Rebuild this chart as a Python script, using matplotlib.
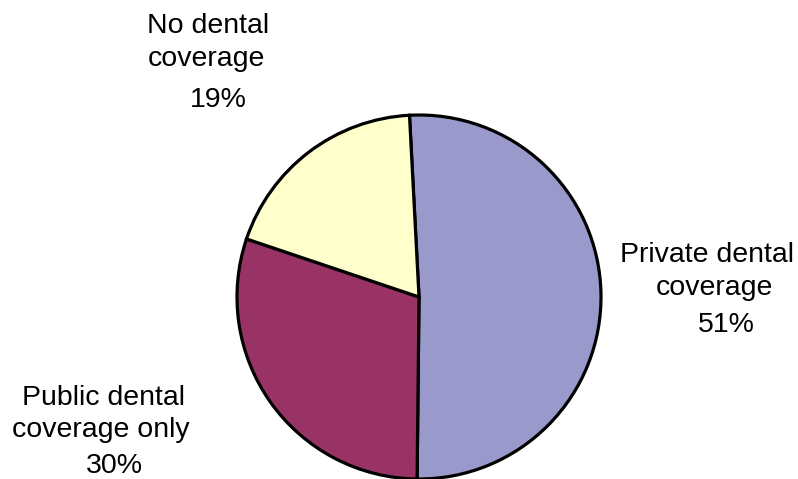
import matplotlib
matplotlib.use("Agg")
import matplotlib.pyplot as plt

categories = ["Private dental\ncoverage", "Public dental\ncoverage only", "No dental\ncoverage"]
shares = [51, 30, 19]
colors = ["#9999CC", "#993366", "#FFFFCC"]

W, H = 798, 479
fig = plt.figure(figsize=(W / 100, H / 100), dpi=100)
plt.rcParams["font.family"] = ["Liberation Sans", "DejaVu Sans"]

cx, cy, r = 419, 297, 182
ax = fig.add_axes([(cx - r) / W, (H - cy - r) / H, 2 * r / W, 2 * r / H])
wedges, _ = ax.pie(shares, colors=colors, startangle=93, counterclock=False,
                   radius=1.0,
                   wedgeprops=dict(edgecolor="black", linewidth=2.3))
for w in wedges:
    w.set_clip_on(False)
ax.set_xlim(-1, 1)
ax.set_ylim(-1, 1)
ax.axis("off")

def put(text, x, y):
    fig.text(x / W, 1 - y / H, text, ha="center", va="baseline",
             fontsize=20.5, color="black")

# label line anchors in pixels: (center x, baseline y) for each name line
name_pos = [[(707, 262), (714, 295)],
            [(104, 405), (101, 437)],
            [(208, 33), (206, 66)]]
pct_pos = [(726, 332), (114, 473), (218, 107)]
for name, s, lines_xy, (px, py) in zip(categories, shares, name_pos, pct_pos):
    for line, (lx, ly) in zip(name.split("\n"), lines_xy):
        put(line, lx, ly)
    put(f"{s}%", px, py)

fig.savefig("out.png", dpi=100)
